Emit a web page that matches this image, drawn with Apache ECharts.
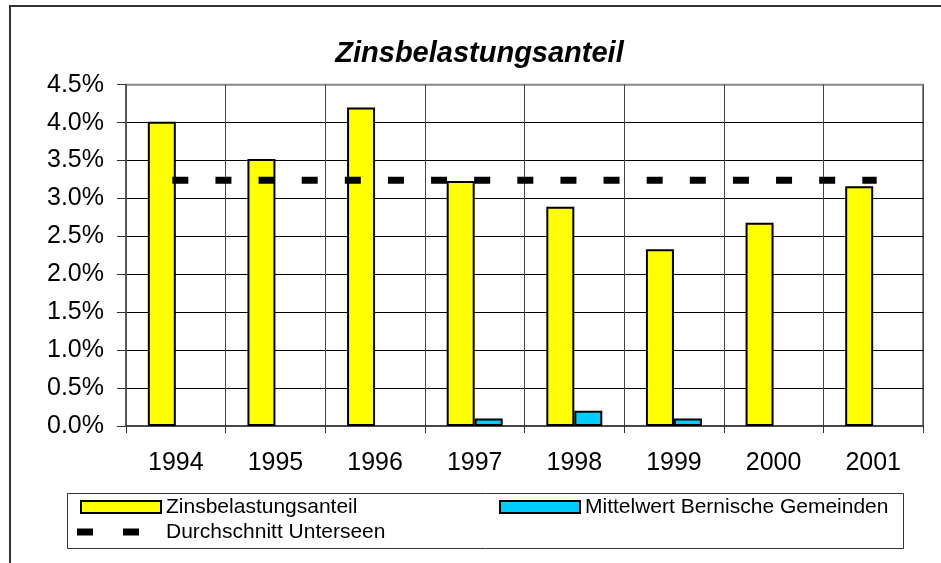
<!DOCTYPE html>
<html>
<head>
<meta charset="utf-8">
<script src="https://cdn.jsdelivr.net/npm/echarts@6/dist/echarts.min.js"></script>
<style>
html,body{margin:0;padding:0;background:#fff;}
#c{width:941px;height:563px;}
</style>
</head>
<body>
<div id="c"></div>
<script>
const titleText = 'Zinsbelastungsanteil';
const years = ['1994','1995','1996','1997','1998','1999','2000','2001'];
const zinsName = 'Zinsbelastungsanteil';
const zinsValues = [4.01, 3.52, 4.20, 3.23, 2.89, 2.33, 2.68, 3.16];
const bernName = 'Mittelwert Bernische Gemeinden';
const bernValues = [null, null, null, 0.1, 0.2, 0.1, null, null];
const avgName = 'Durchschnitt Unterseen';
const avgValues = [3.24, 3.24, 3.24, 3.24, 3.24, 3.24, 3.24, 3.24];
const yMin = 0, yMax = 4.5, yStep = 0.5;

const FONT = '"Liberation Sans", Arial, Helvetica, sans-serif';
const chart = echarts.init(document.getElementById('c'), null, {renderer: 'canvas'});

const legendText = {color: '#000', fontFamily: FONT, fontSize: 21, lineHeight: 24};

chart.setOption({
  backgroundColor: '#fff',
  animation: false,
  title: {
    text: titleText,
    left: 479.5,
    top: 39,
    padding: 0,
    textAlign: 'center',
    textStyle: {fontFamily: FONT, fontSize: 29, fontWeight: 'bold', fontStyle: 'italic', color: '#000', lineHeight: 29}
  },
  graphic: [
    {type: 'rect', shape: {x: 10, y: 6, width: 1200, height: 1200}, style: {fill: 'none', stroke: '#333', lineWidth: 2}, silent: true, z: -10},
    {type: 'rect', shape: {x: 67.5, y: 493.5, width: 836, height: 55}, style: {fill: '#fff', stroke: '#333', lineWidth: 1}, silent: true, z: -5}
  ],
  grid: {
    left: 126, right: 18, top: 84.7, bottom: 137,
    show: true, borderColor: '#888', borderWidth: 2, backgroundColor: '#fff'
  },
  legend: [
    {
      data: [zinsName], left: 80, top: 495, padding: 0,
      itemWidth: 80, itemHeight: 12, icon: 'rect', textStyle: legendText, selectedMode: false
    },
    {
      data: [bernName], left: 499, top: 495, padding: 0,
      itemWidth: 80, itemHeight: 12, icon: 'rect', textStyle: legendText, selectedMode: false
    },
    {
      data: [{name: avgName, icon: 'path://M0,0h16v7h-16z M46,0h16v7h-16z', itemStyle: {color: '#000', borderWidth: 0}}],
      left: 77, top: 517, padding: 0,
      itemWidth: 62, itemHeight: 7,
      textStyle: Object.assign({}, legendText, {padding: [6, 0, 0, 22]}),
      selectedMode: false
    }
  ],
  xAxis: {
    type: 'category',
    data: years,
    boundaryGap: true,
    axisLine: {show: true, lineStyle: {color: '#333', width: 1.5}},
    axisTick: {show: true, length: 7, lineStyle: {color: '#333', width: 1}},
    axisLabel: {color: '#000', fontFamily: FONT, fontSize: 25, margin: 25},
    splitLine: {show: true, lineStyle: {color: '#444', width: 1}}
  },
  yAxis: {
    type: 'value',
    min: yMin, max: yMax, interval: yStep,
    axisLine: {show: true, lineStyle: {color: '#555', width: 1.5}},
    axisTick: {show: true, length: 9, lineStyle: {color: '#333', width: 1}},
    axisLabel: {
      color: '#000', fontFamily: FONT, fontSize: 25, margin: 22,
      formatter: v => v.toFixed(1) + '%'
    },
    splitLine: {show: true, showMaxLine: false, showMinLine: false, lineStyle: {color: '#000', width: 1}}
  },
  series: [
    {
      name: zinsName, type: 'bar', data: zinsValues,
      barWidth: 28, barGap: '0%',
      itemStyle: {color: '#ffff00', borderColor: '#000', borderWidth: 2}
    },
    {
      name: bernName, type: 'bar', data: bernValues,
      barWidth: 28, barGap: '0%',
      itemStyle: {color: '#00ccff', borderColor: '#000', borderWidth: 2}
    },
    {
      name: avgName, type: 'line', data: avgValues,
      symbol: 'none', z: 5,
      itemStyle: {color: '#000'},
      lineStyle: {color: '#000', width: 7, type: [9, 34.125], cap: 'square'}
    }
  ]
});
</script>
</body>
</html>
